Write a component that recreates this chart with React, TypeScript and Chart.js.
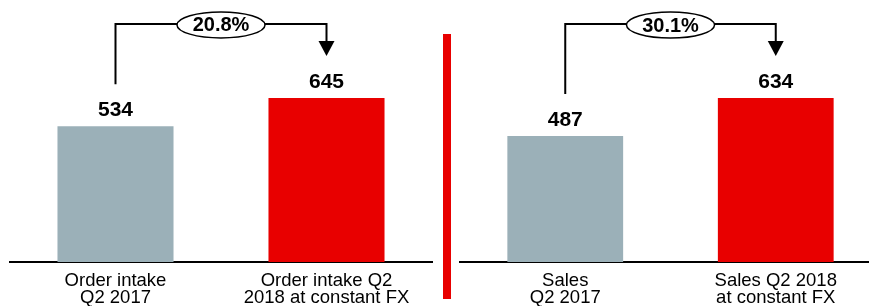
import React, { useEffect, useRef } from "react";
import { Chart, registerables } from "chart.js";

Chart.register(...registerables);

const leftCategories = [["Order intake", "Q2 2017"], ["Order intake Q2", "2018 at constant FX"]];
const leftValues = [534, 645];
const leftChange = "20.8%";

const rightCategories = [["Sales", "Q2 2017"], ["Sales Q2 2018", "at constant FX"]];
const rightValues = [487, 634];
const rightChange = "30.1%";

const barColors = ["#9BB0B8", "#E80000"];
const FONT = "'Liberation Sans', Arial, Helvetica, sans-serif";

const annotatePlugin = {
  id: "annotate",
  afterDatasetsDraw(chart: any) {
    const ctx = chart.ctx;
    const meta = chart.getDatasetMeta(0);
    const values = chart.data.datasets[0].data as number[];
    const change = chart.options.plugins.annotate.change as string;
    const pts = meta.data as any[];
    ctx.save();
    // value labels
    ctx.fillStyle = "#000";
    ctx.font = `bold 21px ${FONT}`;
    ctx.textAlign = "center";
    ctx.textBaseline = "alphabetic";
    pts.forEach((p, i) => {
      ctx.fillText(String(values[i]), p.x, p.y - 10);
    });
    // connector
    const a = pts[0];
    const b = pts[1];
    const topY = Math.min(a.y, b.y) - 74;
    const startY = a.y - 42;
    const tipY = b.y - 42;
    const headH = 15;
    const headW = 8;
    ctx.strokeStyle = "#000";
    ctx.lineWidth = 2;
    ctx.beginPath();
    ctx.moveTo(a.x, startY);
    ctx.lineTo(a.x, topY);
    ctx.lineTo(b.x, topY);
    ctx.lineTo(b.x, tipY - headH);
    ctx.stroke();
    ctx.fillStyle = "#000";
    ctx.beginPath();
    ctx.moveTo(b.x - headW, tipY - headH);
    ctx.lineTo(b.x + headW, tipY - headH);
    ctx.lineTo(b.x, tipY);
    ctx.closePath();
    ctx.fill();
    // ellipse with change
    const cx = (a.x + b.x) / 2;
    const cy = topY + 1;
    ctx.beginPath();
    ctx.ellipse(cx, cy, 44, 13, 0, 0, Math.PI * 2);
    ctx.fillStyle = "#fff";
    ctx.fill();
    ctx.lineWidth = 1.5;
    ctx.strokeStyle = "#000";
    ctx.stroke();
    ctx.fillStyle = "#000";
    ctx.font = `bold 20px ${FONT}`;
    ctx.textBaseline = "middle";
    ctx.fillText(change, cx, cy + 1);
    ctx.restore();
  },
};

function makeConfig(categories: string[][], values: number[], change: string, yMax: number, padLeft: number, padRight: number): any {
  return {
    type: "bar",
    data: {
      labels: categories,
      datasets: [
        {
          data: values,
          backgroundColor: barColors,
          borderWidth: 0,
          barPercentage: 0.55,
          categoryPercentage: 1,
        },
      ],
    },
    options: {
      animation: false,
      responsive: false,
      maintainAspectRatio: false,
      layout: { padding: { left: padLeft, right: padRight, top: 0, bottom: 0 } },
      plugins: {
        legend: { display: false },
        tooltip: { enabled: false },
        annotate: { change },
      },
      scales: {
        x: {
          z: 1,
          grid: { display: false, drawTicks: false },
          border: { display: true, color: "#000", width: 2 },
          ticks: {
            color: "#000",
            padding: 11,
            font: { family: FONT, size: 18.5, lineHeight: 0.9 },
            maxRotation: 0,
            autoSkip: false,
          },
          afterFit: (scale: any) => {
            scale.height = 44;
          },
        },
        y: {
          display: false,
          min: 0,
          max: yMax,
        },
      },
    },
    plugins: [annotatePlugin],
  };
}

function BarPanel(props: { categories: string[][]; values: number[]; change: string; yMax: number; padLeft: number; padRight: number; width: number; left: number }) {
  const ref = useRef<HTMLCanvasElement | null>(null);
  useEffect(() => {
    if (!ref.current) return;
    const chart = new Chart(ref.current, makeConfig(props.categories, props.values, props.change, props.yMax, props.padLeft, props.padRight));
    return () => chart.destroy();
  }, []);
  return (
    <canvas
      ref={ref}
      width={props.width}
      height={306}
      style={{ position: "absolute", left: props.left, top: 0, width: props.width, height: 306 }}
    />
  );
}

export default function App() {
  return (
    <div
      style={{
        position: "absolute",
        left: 0,
        top: 0,
        width: 869,
        height: 306,
        overflow: "hidden",
        background: "#fff",
      }}
    >
      <BarPanel categories={leftCategories} values={leftValues} change={leftChange} yMax={1030} padLeft={10} padRight={8} width={440} left={0} />
      <div style={{ position: "absolute", left: 443, top: 34, width: 8, height: 265, background: "#E80000" }} />
      <BarPanel categories={rightCategories} values={rightValues} change={rightChange} yMax={1013} padLeft={4} padRight={0} width={425} left={456} />
    </div>
  );
}
